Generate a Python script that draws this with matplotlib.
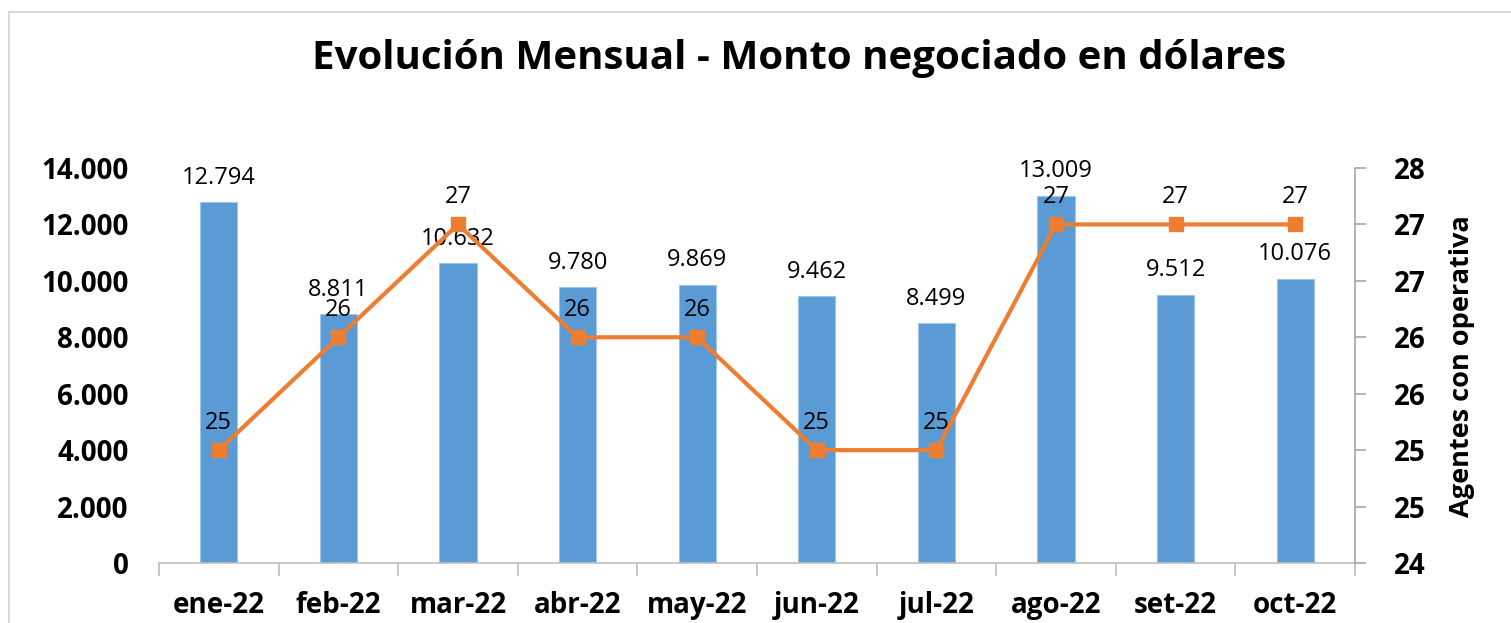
import matplotlib
matplotlib.use('Agg')
from matplotlib import pyplot as plt
from matplotlib.patches import Rectangle
import numpy as np

plt.rcParams['font.family'] = ['Open Sans', 'DejaVu Sans']

# data
meses = ['ene-22', 'feb-22', 'mar-22', 'abr-22', 'may-22', 'jun-22', 'jul-22', 'ago-22', 'set-22', 'oct-22']
monto = [12794, 8811, 10632, 9780, 9869, 9462, 8499, 13009, 9512, 10076]
agentes = [25, 26, 27, 26, 26, 25, 25, 27, 27, 27]
ticks_izq = [0, 2000, 4000, 6000, 8000, 10000, 12000, 14000]
ticks_der = [24, 24.5, 25, 25.5, 26, 26.5, 27, 27.5]

azul = '#5B9BD5'
naranja = '#ED7D31'
gris = '#BFBFBF'


def miles(v):
    return f"{int(v):,}".replace(',', '.')


def redondeo(v):
    # como Excel: redondea la mitad hacia arriba
    return str(int(np.floor(v + 0.5)))


fig = plt.figure(figsize=(15.11, 6.23), dpi=100)
fig.patches.append(Rectangle((9 / 1511, -0.1), 1.2, 1.1 - 12 / 623, transform=fig.transFigure,
                             fill=False, edgecolor='#D9D9D9', linewidth=1.5))

ax1 = fig.add_axes([159 / 1511, 1 - 563 / 623, (1355 - 159) / 1511, (563 - 168) / 623])
x = np.arange(len(meses))
ax1.bar(x, monto, width=0.31, color=azul, edgecolor='#9DC3E6', linewidth=0.8, zorder=2)
ax1.set_xlim(-0.5, len(meses) - 0.5)
ax1.set_ylim(0, 14000)
ax1.set_yticks(ticks_izq)
ax1.set_yticklabels([miles(t) for t in ticks_izq], fontsize=20, fontweight='bold')
ax1.tick_params(axis='y', length=0, pad=22)

ax1.set_xticks(np.arange(len(meses) + 1) - 0.5)
ax1.set_xticklabels([])
ax1.tick_params(axis='x', which='major', length=9, color=gris, width=1.2)
ax1.set_xticks(x, minor=True)
ax1.set_xticklabels(meses, minor=True, fontsize=20, fontweight='bold')
ax1.tick_params(axis='x', which='minor', length=0, pad=20)

for s in ['top', 'left', 'right']:
    ax1.spines[s].set_visible(False)
ax1.spines['bottom'].set_color(gris)
ax1.spines['bottom'].set_linewidth(1.2)

for xi, v in zip(x, monto):
    ax1.annotate(miles(v), (xi, v), xytext=(0, 9), textcoords='offset points',
                 ha='center', va='bottom', fontsize=17, zorder=5)

ax2 = ax1.twinx()
ax2.plot(x, agentes, color=naranja, linewidth=3, marker='s', markersize=10, zorder=3)
ax2.set_ylim(24, 27.5)
ax2.set_yticks(ticks_der)
ax2.set_yticklabels([redondeo(t) for t in ticks_der], fontsize=20, fontweight='bold')
ax2.tick_params(axis='y', length=8, color='#A6A6A6', width=1.2, pad=20)
for s in ['top', 'left', 'bottom']:
    ax2.spines[s].set_visible(False)
ax2.spines['right'].set_color('#A6A6A6')
ax2.spines['right'].set_linewidth(1.2)

for xi, v in zip(x, agentes):
    ax2.annotate(str(v), (xi, v), xytext=(0, 11), textcoords='offset points',
                 ha='center', va='bottom', fontsize=17, zorder=5)

fig.text(1462 / 1511, 1 - 366 / 623, 'Agentes con operativa', rotation=90,
         ha='center', va='center', fontsize=19.5, fontweight='bold')
fig.text(799 / 1511, 1 - 69 / 623, 'Evolución Mensual - Monto negociado en dólares',
         ha='center', va='baseline', fontsize=29, fontweight='bold')

fig.savefig('out.png', dpi=100)
